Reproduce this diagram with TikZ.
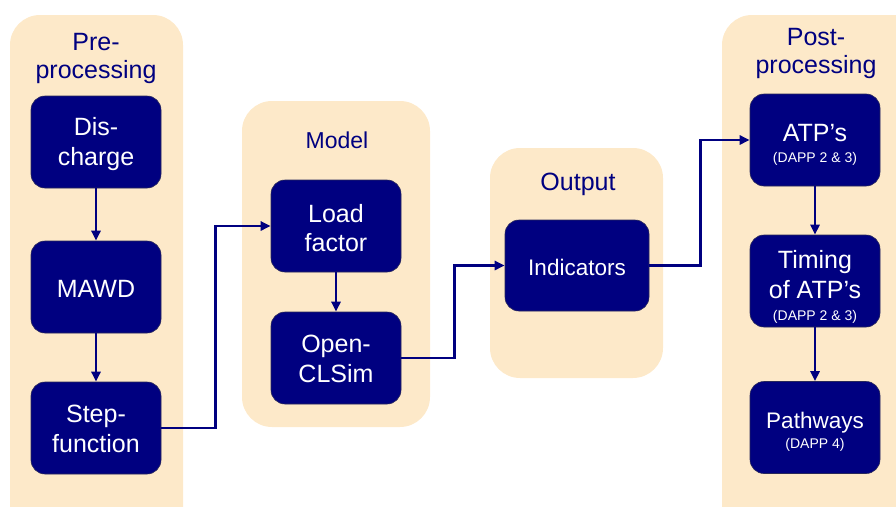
\documentclass[tikz,border=0pt]{standalone}
\usepackage{fontspec}
\setmainfont{Liberation Sans}
\usetikzlibrary{arrows.meta}
\definecolor{navyc}{RGB}{0,0,128}
\definecolor{peach}{RGB}{253,233,201}
\definecolor{boxline}{RGB}{40,40,90}
\begin{document}
\begin{tikzpicture}[x=1pt,y=-1pt,
  panel/.style={fill=peach,draw=none,rounded corners=30pt},
  ptitle/.style={text=navyc,anchor=base,font=\fontsize{25}{29}\selectfont,inner sep=0pt},
  stepbox/.style={fill=navyc,draw=boxline,line width=0.6pt,rounded corners=14pt,
     minimum width=130pt,minimum height=92pt,inner sep=0pt},
  btxt/.style={text=white,anchor=base,font=\fontsize{25}{30}\selectfont,inner sep=0pt},
  stxt/.style={text=white,anchor=base,font=\fontsize{14}{16}\selectfont,inner sep=0pt},
  conn/.style={draw=navyc,line width=2.6pt,-{Triangle[length=10pt,width=9pt]}}
]
\useasboundingbox (0,0) rectangle (896,506);
% panels
\path[panel] (10,15) rectangle (183,540);
\path[panel] (242,101) rectangle (430,427);
\path[panel] (490,148) rectangle (663,378);
\path[panel] (722,15) rectangle (930,540);
% titles
\node[ptitle] (tpre1) at (96,50) {Pre-};
\node[ptitle] (tpre2) at (96,78) {processing};
\node[ptitle,font=\fontsize{23}{27}\selectfont] (tmodel) at (337,148) {Model};
\node[ptitle] (tout) at (578,190) {Output};
\node[ptitle] (tpost1) at (816,45) {Post-};
\node[ptitle] (tpost2) at (816,73) {processing};
% boxes
\node[stepbox] (dis) at (96,142) {};
\node[stepbox] (mawd) at (96,287) {};
\node[stepbox] (stepf) at (96,428) {};
\node[stepbox] (load) at (336,226) {};
\node[stepbox] (open) at (336,358) {};
\node[stepbox,minimum width=144pt,minimum height=91pt] (ind) at (577,265.5) {};
\node[stepbox] (atp) at (815,140) {};
\node[stepbox] (timing) at (815,281) {};
\node[stepbox] (path) at (815,427.5) {};
% box texts
\node[btxt] (dis1) at (96,135) {Dis-};
\node[btxt] (dis2) at (96,165) {charge};
\node[btxt] (mawd1) at (96,297) {MAWD};
\node[btxt] (step1) at (96,422) {Step-};
\node[btxt] (step2) at (96,452) {function};
\node[btxt] (load1) at (336,222) {Load};
\node[btxt] (load2) at (336,251) {factor};
\node[btxt] (open1) at (336,352) {Open-};
\node[btxt] (open2) at (336,382) {CLSim};
\node[btxt,font=\fontsize{22.5}{27}\selectfont] (ind1) at (577,275) {Indicators};
\node[btxt] (atp1) at (815,141) {ATP’s};
\node[stxt] (atp2) at (815,162) {(DAPP 2 \& 3)};
\node[btxt] (tim1) at (815,268) {Timing};
\node[btxt] (tim2) at (815,298) {of ATP’s};
\node[stxt] (tim3) at (815,320) {(DAPP 2 \& 3)};
\node[btxt,font=\fontsize{22.5}{27}\selectfont] (path1) at (815,428) {Pathways};
\node[stxt] (path2) at (815,448) {(DAPP 4)};
% connectors
\draw[conn] (dis) -- (mawd);
\draw[conn] (mawd) -- (stepf);
\draw[conn] (load) -- (open);
\draw[conn] (atp) -- (timing);
\draw[conn] (timing) -- (path);
\draw[conn] (stepf.east) -- ++(54,0) |- (load.west);
\draw[conn] (open.east) -- ++(53,0) |- (ind.west);
\draw[conn] (ind.east) -- ++(51,0) |- (atp.west);
\end{tikzpicture}
\end{document}
